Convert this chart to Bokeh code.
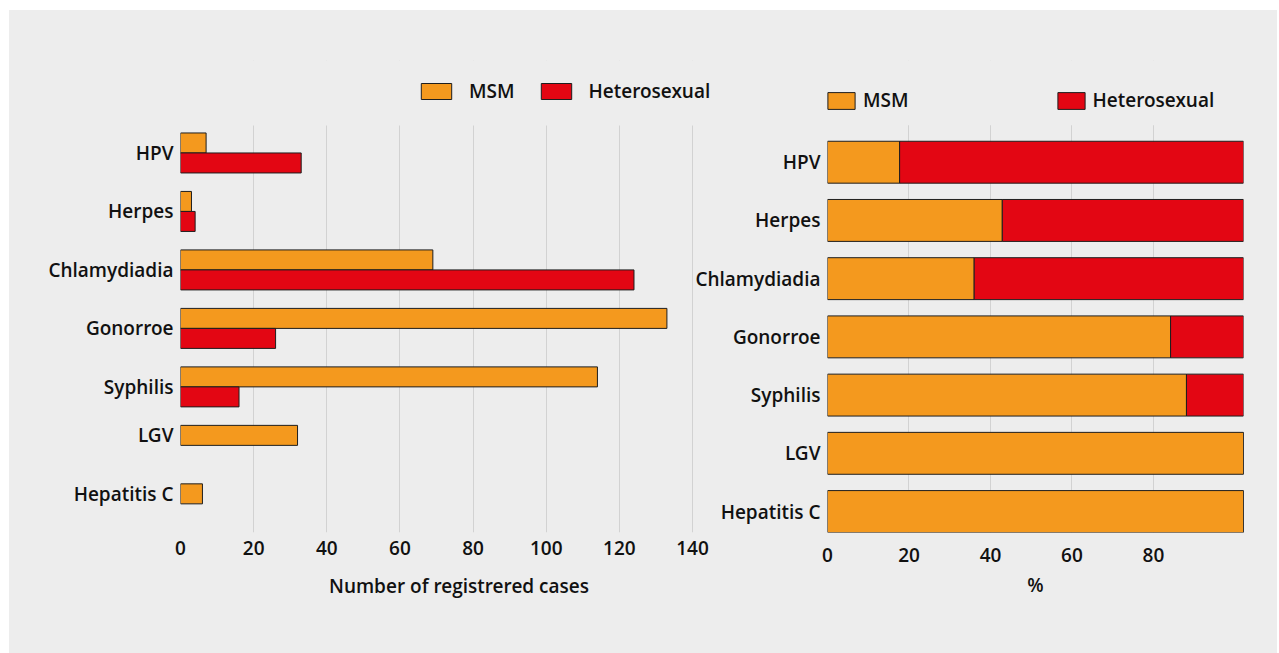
from bokeh.plotting import figure
from bokeh.models import (Range1d, FixedTicker, Legend, LegendItem, ColumnDataSource,
                          BoxAnnotation)
from bokeh.layouts import row
from bokeh.embed import file_html
from bokeh.resources import INLINE

# ---------------- data ----------------
categories = ["HPV", "Herpes", "Chlamydiadia", "Gonorroe", "Syphilis", "LGV", "Hepatitis C"]
msm_cases = [7, 3, 69, 133, 114, 32, 6]
het_cases = [33, 4, 124, 26, 16, 0, 0]
msm_pct = [17.7, 42.9, 36.0, 84.2, 88.1, 102.1, 102.1]
het_pct = [84.4, 59.2, 66.1, 17.9, 14.0, 0.0, 0.0]
left_ticks = [0, 20, 40, 60, 80, 100, 120, 140]
right_ticks = [0, 20, 40, 60, 80]
series_names = ["MSM", "Heterosexual"]

# ---------------- styles ----------------
ORANGE = "#F4991E"
RED = "#E30613"
EDGE = "#1e1e1e"
BG = "#ededed"
GRID = "#d2d2d2"
TEXT = "#111111"
FONT = "Open Sans SemiBold"
WEIGHT = "normal"
FS = "19px"


def style_axis(ax):
    ax.axis_line_color = None
    ax.major_tick_line_color = None
    ax.minor_tick_line_color = None
    ax.major_tick_out = 0
    ax.major_tick_in = 0
    ax.major_label_text_font = FONT
    ax.major_label_text_font_size = FS
    ax.major_label_text_font_style = WEIGHT
    ax.major_label_text_color = TEXT
    ax.axis_label_text_font = FONT
    ax.axis_label_text_font_size = FS
    ax.axis_label_text_font_style = WEIGHT
    ax.axis_label_text_color = TEXT


def style_legend(lg):
    lg.orientation = "horizontal"
    lg.margin = 0
    lg.padding = 0
    lg.border_line_color = None
    lg.background_fill_alpha = 0
    lg.label_text_font = FONT
    lg.label_text_font_size = FS
    lg.label_text_font_style = WEIGHT
    lg.label_text_color = TEXT


# ---------------- left chart: counts ----------------
off = 0.171
n = len(categories)
msm_y = [i - off for i in range(n)]
het_idx = [i for i in range(n) if het_cases[i] > 0]
left_tick_pos = [round(i if het_cases[i] > 0 else i - off, 3) for i in range(n)]

src_msm = ColumnDataSource(dict(y=msm_y, v=msm_cases))
src_het = ColumnDataSource(dict(y=[i + off for i in het_idx], v=[het_cases[i] for i in het_idx]))

p1 = figure(width=728, height=643, output_backend="svg", toolbar_location=None,
            x_range=Range1d(0, 152.3), y_range=Range1d(6.49, -1.581),
            min_border_left=171, min_border_right=0, min_border_top=50, min_border_bottom=121)
p1.background_fill_color = BG
p1.border_fill_color = BG
p1.outline_line_color = None

# grey band hiding the gridlines above the plotting area (legend zone)
p1.add_layout(BoxAnnotation(bottom=-0.47, fill_color=BG, fill_alpha=1, line_alpha=0,
                            level="underlay"))

r_msm = p1.hbar(y="y", right="v", left=0, height=0.342, source=src_msm,
                fill_color=ORANGE, line_color=EDGE, line_width=1)
r_het = p1.hbar(y="y", right="v", left=0, height=0.342, source=src_het,
                fill_color=RED, line_color=EDGE, line_width=1)

p1.xaxis.ticker = FixedTicker(ticks=left_ticks)
p1.yaxis.ticker = FixedTicker(ticks=left_tick_pos)
p1.yaxis.major_label_overrides = {t: c for t, c in zip(left_tick_pos, categories)}
p1.xaxis.axis_label = "Number of registrered cases"
style_axis(p1.xaxis[0])
style_axis(p1.yaxis[0])
p1.xaxis.major_label_standoff = 8
p1.xaxis.axis_label_standoff = 15
p1.yaxis.major_label_standoff = 7
p1.xgrid.grid_line_color = GRID
p1.xgrid.grid_line_width = 1
p1.ygrid.grid_line_color = None

lg1 = Legend(items=[LegendItem(label=series_names[0], renderers=[r_msm]),
                    LegendItem(label=series_names[1], renderers=[r_het])],
             location=(237, 428), glyph_width=38, glyph_height=20,
             label_standoff=14, spacing=22, label_height=20)
style_legend(lg1)
p1.add_layout(lg1)

# ---------------- right chart: percentages ----------------
src_pct = ColumnDataSource(dict(y=list(range(n)), msm=msm_pct, het=het_pct))

p2 = figure(width=586, height=643, output_backend="svg", toolbar_location=None,
            x_range=Range1d(0, 102.1), y_range=Range1d(6.36, -1.747),
            min_border_left=136, min_border_right=34, min_border_top=50, min_border_bottom=120)
p2.background_fill_color = BG
p2.border_fill_alpha = 0
p2.outline_line_color = None
p2.margin = (0, 0, 0, -46)

p2.add_layout(BoxAnnotation(bottom=-0.634, fill_color=BG, fill_alpha=1, line_alpha=0,
                            level="underlay"))

rs = p2.hbar_stack(["msm", "het"], y="y", height=0.72, source=src_pct,
                   fill_color=[ORANGE, RED], line_color=EDGE, line_width=1)

p2.xaxis.ticker = FixedTicker(ticks=right_ticks)
p2.yaxis.ticker = FixedTicker(ticks=list(range(n)))
p2.yaxis.major_label_overrides = {i: c for i, c in enumerate(categories)}
p2.xaxis.axis_label = "%"
style_axis(p2.xaxis[0])
style_axis(p2.yaxis[0])
p2.xaxis.major_label_standoff = 15
p2.xaxis.axis_label_standoff = 7
p2.yaxis.major_label_standoff = 7
p2.xgrid.grid_line_color = GRID
p2.xgrid.grid_line_width = 1
p2.ygrid.grid_line_color = None

lg2 = Legend(items=[LegendItem(label=series_names[0], renderers=[rs[0]]),
                    LegendItem(label=series_names[1], renderers=[rs[1]])],
             location=(-3, 419), glyph_width=34, glyph_height=21,
             label_standoff=5, spacing=145, label_height=21)
style_legend(lg2)
p2.add_layout(lg2)

layout = row(p1, p2, styles={"background-color": BG}, margin=(10, 0, 0, 9))

open("out.html", "w").write(file_html(layout, INLINE))
